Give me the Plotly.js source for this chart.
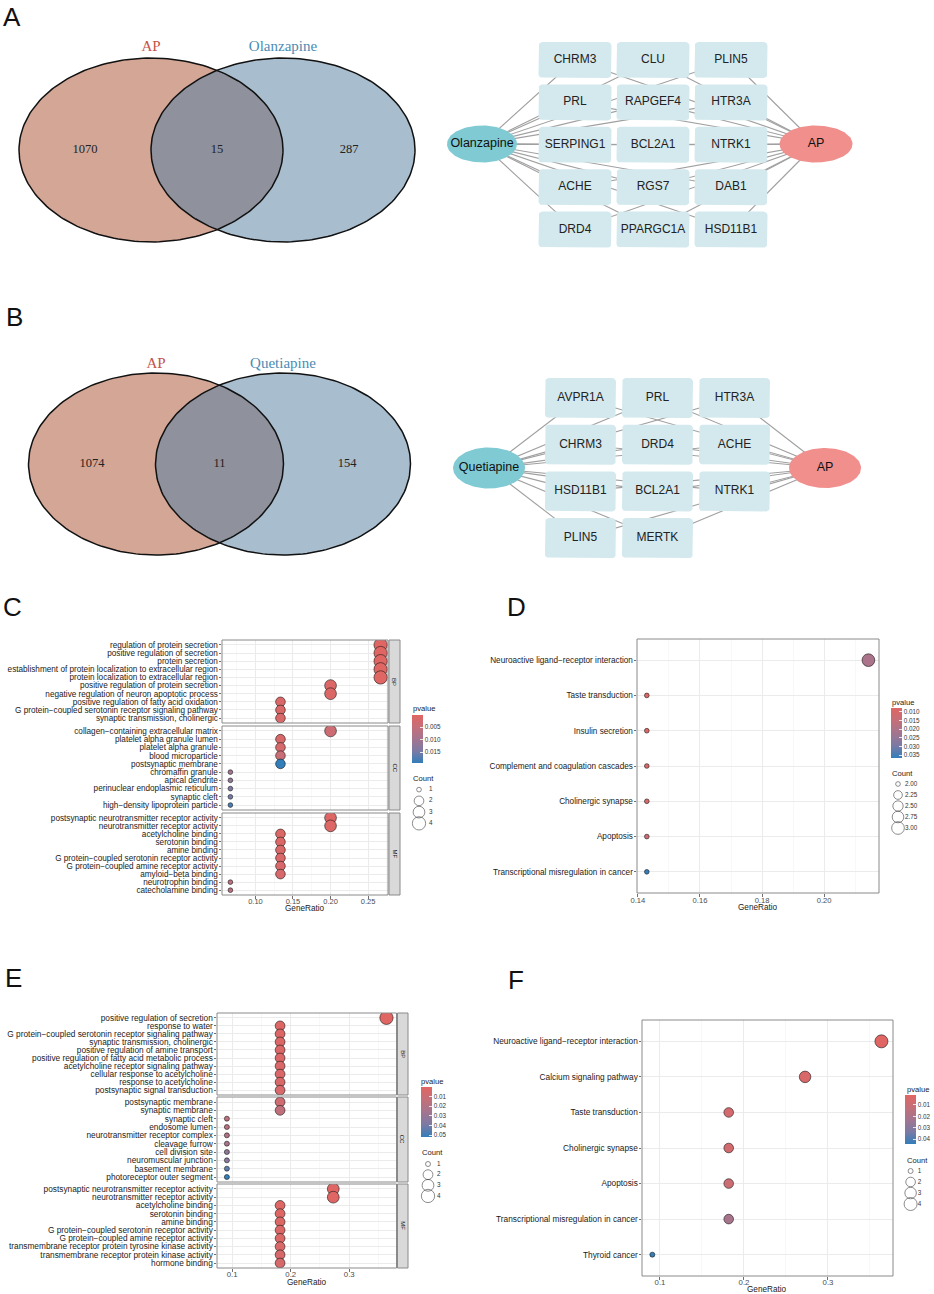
<!DOCTYPE html>
<html><head><meta charset="utf-8">
<script src="https://cdn.plot.ly/plotly-3.0.1.min.js"></script>
<style>html,body{margin:0;padding:0;background:#fff}#chart{width:934px;height:1294px}</style>
</head><body><div id="chart"></div>
<script>
// ================= DATA =================
const vennA_sets = ['AP', 'Olanzapine'];
const vennA_counts = [1070, 15, 287];
const vennB_sets = ['AP', 'Quetiapine'];
const vennB_counts = [1074, 11, 154];

const netA_hubs = ['Olanzapine', 'AP'];
const netA_genes = [['CHRM3','CLU','PLIN5'],['PRL','RAPGEF4','HTR3A'],['SERPING1','BCL2A1','NTRK1'],['ACHE','RGS7','DAB1'],['DRD4','PPARGC1A','HSD11B1']];
const netB_hubs = ['Quetiapine', 'AP'];
const netB_genes = [['AVPR1A','PRL','HTR3A'],['CHRM3','DRD4','ACHE'],['HSD11B1','BCL2A1','NTRK1'],['PLIN5','MERTK']];

// Panel C (GO, olanzapine) — GeneRatio = count / 15
const C_total = 15;
const C_BP_terms = ['regulation of protein secretion','positive regulation of secretion','protein secretion','establishment of protein localization to extracellular region','protein localization to extracellular region','positive regulation of protein secretion','negative regulation of neuron apoptotic process','positive regulation of fatty acid oxidation','G protein\u2212coupled serotonin receptor signaling pathway','synaptic transmission, cholinergic'];
const C_BP_count = [4,4,4,4,4,3,3,2,2,2];
const C_BP_p = [0.0002,0.0002,0.0003,0.0003,0.0003,0.0009,0.0011,0.0013,0.0013,0.0015];
const C_CC_terms = ['collagen\u2212containing extracellular matrix','platelet alpha granule lumen','platelet alpha granule','blood microparticle','postsynaptic membrane','chromaffin granule','apical dendrite','perinuclear endoplasmic reticulum','synaptic cleft','high\u2212density lipoprotein particle'];
const C_CC_count = [3,2,2,2,2,1,1,1,1,1];
const C_CC_p = [0.0035,0.0016,0.0020,0.0042,0.0194,0.0100,0.0118,0.0138,0.0150,0.0178];
const C_MF_terms = ['postsynaptic neurotransmitter receptor activity','neurotransmitter receptor activity','acetylcholine binding','serotonin binding','amine binding','G protein\u2212coupled serotonin receptor activity','G protein\u2212coupled amine receptor activity','amyloid\u2212beta binding','neurotrophin binding','catecholamine binding'];
const C_MF_count = [3,3,2,2,2,2,2,2,1,1];
const C_MF_p = [0.0006,0.0007,0.0010,0.0011,0.0013,0.0013,0.0015,0.0017,0.0062,0.0068];
const C_cb_ticks = [0.005, 0.010, 0.015];
const C_count_legend = [1,2,3,4];

// Panel D (KEGG, olanzapine) — GeneRatio = count / 14
const D_total = 14;
const D_terms = ['Neuroactive ligand\u2212receptor interaction','Taste transduction','Insulin secretion','Complement and coagulation cascades','Cholinergic synapse','Apoptosis','Transcriptional misregulation in cancer'];
const D_count = [3,2,2,2,2,2,2];
const D_p = [0.0205,0.0077,0.0082,0.0086,0.0093,0.0128,0.0367];
const D_cb_ticks = [0.010,0.015,0.020,0.025,0.030,0.035];
const D_count_legend = [2.00,2.25,2.50,2.75,3.00];

// Panel E (GO, quetiapine) — GeneRatio = count / 11
const E_total = 11;
const E_BP_terms = ['positive regulation of secretion','response to water','G protein\u2212coupled serotonin receptor signaling pathway','synaptic transmission, cholinergic','positive regulation of amine transport','positive regulation of fatty acid metabolic process','acetylcholine receptor signaling pathway','cellular response to acetylcholine','response to acetylcholine','postsynaptic signal transduction'];
const E_BP_count = [4,2,2,2,2,2,2,2,2,2];
const E_BP_p = [0.0001,0.0014,0.0020,0.0022,0.0024,0.0026,0.0028,0.0030,0.0032,0.0036];
const E_CC_terms = ['postsynaptic membrane','synaptic membrane','synaptic cleft','endosome lumen','neurotransmitter receptor complex','cleavage furrow','cell division site','neuromuscular junction','basement membrane','photoreceptor outer segment'];
const E_CC_count = [2,2,1,1,1,1,1,1,1,1];
const E_CC_p = [0.0082,0.0145,0.0160,0.0172,0.0205,0.0228,0.0320,0.0340,0.0440,0.0519];
const E_MF_terms = ['postsynaptic neurotransmitter receptor activity','neurotransmitter receptor activity','acetylcholine binding','serotonin binding','amine binding','G protein\u2212coupled serotonin receptor activity','G protein\u2212coupled amine receptor activity','transmembrane receptor protein tyrosine kinase activity','transmembrane receptor protein kinase activity','hormone binding'];
const E_MF_count = [3,3,2,2,2,2,2,2,2,2];
const E_MF_p = [0.0004,0.0005,0.0010,0.0012,0.0015,0.0018,0.0022,0.0035,0.0040,0.0045];
const E_cb_ticks = [0.01,0.02,0.03,0.04,0.05];
const E_count_legend = [1,2,3,4];

// Panel F (KEGG, quetiapine) — GeneRatio = count / 11
const F_total = 11;
const F_terms = ['Neuroactive ligand\u2212receptor interaction','Calcium signaling pathway','Taste transduction','Cholinergic synapse','Apoptosis','Transcriptional misregulation in cancer','Thyroid cancer'];
const F_count = [4,3,2,2,2,2,1];
const F_p = [0.0012,0.0040,0.0060,0.0066,0.0092,0.0215,0.0444];
const F_cb_ticks = [0.01,0.02,0.03,0.04];
const F_count_legend = [1,2,3,4];

// ================= LAYOUT HELPERS =================
const W = 934, H = 1294;
const FONT = '"Liberation Sans", Arial, Helvetica, sans-serif';
const SERIF = '"Liberation Serif", "Times New Roman", serif';
const PSCALE = [[0,'#327eba'],[0.25,'#7b7aa4'],[0.5,'#a3758f'],[0.75,'#c46f79'],[1,'#e06663']];
const px = (a,b) => [a/W, b/W];
const py = (a,b) => [1-b/H, 1-a/H];
const axKey = (n,c) => c+'axis'+(n===1?'':n);
const axRef = (n,c) => c+(n===1?'':n);
const hid = (dom, range, anchor) => ({domain:dom, range:range, anchor:anchor, visible:false, fixedrange:true});

const traces = [];
const layout = {
  width:W, height:H, margin:{l:0,r:0,t:0,b:0}, paper_bgcolor:'#ffffff', plot_bgcolor:'rgba(0,0,0,0)',
  showlegend:false, hovermode:false, font:{family:FONT, color:'#1a1a1a'}, shapes:[], annotations:[]
};
const base = {type:'scatter', mode:'lines', hoverinfo:'skip'};

function drawVenn(n, sets, counts, g){
  const xr = axRef(n,'x'), yr = axRef(n,'y');
  layout[axKey(n,'x')] = hid(px(g.x0,g.x1), [(g.x0-g.cL)/g.rx, (g.x1-g.cL)/g.rx], yr);
  layout[axKey(n,'y')] = hid(py(g.y0,g.y1), [(g.cy-g.y1)/g.ry, (g.cy-g.y0)/g.ry], xr);
  const d = (g.cR-g.cL)/g.rx;
  const circ = c => { const xs=[], ys=[]; for(let i=0;i<=200;i++){const t=i/200*2*Math.PI; xs.push(c+Math.cos(t)); ys.push(Math.sin(t));} return {xs,ys}; };
  const L = circ(0), R = circ(d);
  const th = Math.acos(d/2);
  const lx=[], ly=[];
  for(let i=0;i<=80;i++){const t=-th+2*th*i/80; lx.push(Math.cos(t)); ly.push(Math.sin(t));}
  for(let i=0;i<=80;i++){const t=Math.PI-th+2*th*i/80; lx.push(d+Math.cos(t)); ly.push(Math.sin(t));}
  const b = {...base, xaxis:xr, yaxis:yr};
  traces.push({...b, x:L.xs, y:L.ys, fill:'toself', fillcolor:'#d4a696', line:{width:0}});
  traces.push({...b, x:R.xs, y:R.ys, fill:'toself', fillcolor:'#a8bdce', line:{width:0}});
  traces.push({...b, x:lx, y:ly, fill:'toself', fillcolor:'#8f919c', line:{width:0}});
  traces.push({...b, x:L.xs, y:L.ys, line:{color:'#111111', width:1.5}});
  traces.push({...b, x:R.xs, y:R.ys, line:{color:'#111111', width:1.5}});
  traces.push({...b, mode:'text', x:[(d-2)/2, d/2, 1+d/2], y:[0,0,0], text:counts.map(String),
    textfont:{family:SERIF, size:12.5, color:'#222222'}, cliponaxis:false});
  const ly2 = (g.cy-g.labY)/g.ry;
  traces.push({...b, mode:'text', x:[0,d], y:[ly2,ly2], text:sets,
    textfont:{family:SERIF, size:15, color:['#c4534a','#4b8bb4']}, cliponaxis:false});
}

function roundRect(cx, cy, hw, hh, rx, ry){
  const xs=[], ys=[];
  const corners = [[cx+hw-rx, cy-hh+ry, -Math.PI/2, 0],[cx+hw-rx, cy+hh-ry, 0, Math.PI/2],[cx-hw+rx, cy+hh-ry, Math.PI/2, Math.PI],[cx-hw+rx, cy-hh+ry, Math.PI, 1.5*Math.PI]];
  corners.forEach(([ox,oy,a0,a1])=>{ for(let i=0;i<=6;i++){const t=a0+(a1-a0)*i/6; xs.push(ox+rx*Math.cos(t)); ys.push(oy+ry*Math.sin(t));} });
  xs.push(xs[0]); ys.push(ys[0]);
  return {xs, ys};
}

function drawNet(n, hubs, genes, g){
  const xr = axRef(n,'x'), yr = axRef(n,'y');
  layout[axKey(n,'x')] = hid(px(g.x0,g.x1), [(g.x0-g.c0)/g.cp, (g.x1-g.c0)/g.cp], yr);
  layout[axKey(n,'y')] = hid(py(g.y0,g.y1), [(g.y1-g.r0)/g.rp, (g.y0-g.r0)/g.rp], xr);
  const hub = h => ({c:(h.x-g.c0)/g.cp, r:(h.y-g.r0)/g.rp, rc:h.rx/g.cp, rr:h.ry/g.rp});
  const H1 = hub(g.hubL), H2 = hub(g.hubR);
  const nodes = [];
  genes.forEach((row,ri)=>row.forEach((name,ci)=>nodes.push({name, c:ci, r:ri})));
  const b = {...base, xaxis:xr, yaxis:yr, cliponaxis:false};
  [H1,H2].forEach(h=>{
    const ex=[], ey=[];
    nodes.forEach(nd=>{ ex.push(h.c, nd.c, null); ey.push(h.r, nd.r, null); });
    traces.push({...b, x:ex, y:ey, line:{color:'#a0a0a0', width:1.1}});
  });
  const hw = g.hw/g.cp, hh = g.hh/g.rp, rcx = 4/g.cp, rcy = 4/g.rp;
  nodes.forEach(nd=>{
    const p = roundRect(nd.c, nd.r, hw, hh, rcx, rcy);
    traces.push({...b, x:p.xs, y:p.ys, fill:'toself', fillcolor:'#d3e9ee', line:{width:0}});
  });
  [[H1,'#7fcad3'],[H2,'#f08f8c']].forEach(([h,col])=>{
    const xs=[], ys=[];
    for(let i=0;i<=120;i++){const t=i/120*2*Math.PI; xs.push(h.c+h.rc*Math.cos(t)); ys.push(h.r+h.rr*Math.sin(t));}
    traces.push({...b, x:xs, y:ys, fill:'toself', fillcolor:col, line:{width:0}});
  });
  traces.push({...b, mode:'text', x:nodes.map(d=>d.c), y:nodes.map(d=>d.r), text:nodes.map(d=>d.name),
    textfont:{family:FONT, size:12, color:'#222222'}});
  traces.push({...b, mode:'text', x:[H1.c,H2.c], y:[H1.r,H2.r], text:hubs,
    textfont:{family:FONT, size:12.5, color:'#111111'}});
}

function dotPlot(cfg){
  const xr = 'x'+cfg.xn;
  const allCounts = cfg.facets.flatMap(f=>f.count).concat(cfg.lg.vals);
  const cMin = Math.min(...allCounts), cMax = Math.max(...allCounts);
  const sz = c => cfg.dmin + (cfg.dmax-cfg.dmin)*Math.sqrt((c-cMin)/(cMax-cMin));
  const allP = cfg.facets.flatMap(f=>f.p);
  const pMin = Math.min(...allP), pMax = Math.max(...allP);
  const ca = 'coloraxis'+(cfg.ck===1?'':cfg.ck);
  layout[ca] = {cmin:-pMax, cmax:-pMin, colorscale:PSCALE, colorbar:{
    x:cfg.cb.x/W, xanchor:'left', y:1-((cfg.cb.y0+cfg.cb.y1)/2)/H, yanchor:'middle',
    len:cfg.cb.y1-cfg.cb.y0, lenmode:'pixels', thickness:11, thicknessmode:'pixels',
    xpad:0, ypad:0, outlinewidth:0, borderwidth:0, ticks:'inside', ticklen:2.5, tickwidth:0.8, tickcolor:'#ffffff',
    tickvals:cfg.cb.ticks.map(v=>-v), ticktext:cfg.cb.ticks.map(v=>v.toFixed(cfg.cb.dec)),
    tickfont:{size:6.3, color:'#333333', family:FONT}}};
  const lastY = 'y'+cfg.facets[cfg.facets.length-1].yn;
  layout['xaxis'+cfg.xn] = {domain:px(cfg.x0,cfg.x1), range:cfg.xrange, anchor:lastY, showgrid:true, gridcolor:'#ebebeb', gridwidth:1,
    zeroline:false, showline:false, ticks:'outside', ticklen:2.5, tickwidth:0.7, tickcolor:'#333333',
    tickfont:{size:cfg.tickSize, color:'#4d4d4d', family:FONT}, tick0:cfg.tick0, dtick:cfg.dtick, tickformat:cfg.fmt,
    ticklabelstandoff:cfg.xstand, minor:{dtick:cfg.minor, showgrid:true, gridcolor:'#f3f3f3', gridwidth:0.6, ticks:''}, fixedrange:true};
  cfg.facets.forEach(f=>{
    const yr = 'y'+f.yn;
    layout['yaxis'+f.yn] = {domain:py(f.y0,f.y1), anchor:xr, type:'category', categoryorder:'array', categoryarray:f.terms,
      tickmode:'array', tickvals:f.terms, ticktext:f.terms,
      range:[f.terms.length-0.4, -0.6], showgrid:true, gridcolor:'#ebebeb', gridwidth:1, zeroline:false, showline:false,
      ticks:'outside', ticklen:2.5, tickwidth:0.7, tickcolor:'#333333', tickfont:{size:cfg.labelSize, color:'#1a1a1a', family:FONT},
      ticklabelstandoff:-1, fixedrange:true};
    traces.push({type:'scatter', mode:'markers', xaxis:xr, yaxis:yr, hoverinfo:'skip',
      x:f.count.map(c=>c/cfg.total), y:f.terms,
      marker:{size:f.count.map(sz), color:f.p.map(v=>-v), coloraxis:ca, line:{color:'#1a1a1a', width:0.6}, opacity:1}});
    layout.shapes.push({type:'rect', xref:'paper', yref:'paper', x0:cfg.x0/W, x1:cfg.x1/W, y0:1-f.y1/H, y1:1-f.y0/H,
      line:{color:'#8a8a8a', width:1}, fillcolor:'rgba(0,0,0,0)', layer:'above'});
    if(f.strip){
      layout.shapes.push({type:'rect', xref:'paper', yref:'paper', x0:cfg.s0/W, x1:cfg.s1/W, y0:1-f.y1/H, y1:1-f.y0/H,
        line:{color:'#8a8a8a', width:1}, fillcolor:'#d9d9d9', layer:'above'});
      layout.annotations.push({xref:'paper', yref:'paper', x:((cfg.s0+cfg.s1)/2)/W, y:1-((f.y0+f.y1)/2)/H, text:f.strip,
        textangle:90, showarrow:false, font:{size:6, color:'#1a1a1a', family:FONT}, xanchor:'center', yanchor:'middle'});
    }
  });
  // axis title
  layout.annotations.push({xref:'paper', yref:'paper', x:cfg.title[0]/W, y:1-cfg.title[1]/H, text:'GeneRatio', showarrow:false,
    font:{size:8.2, color:'#1a1a1a', family:FONT}, xanchor:'center', yanchor:'middle'});
  // legend titles
  layout.annotations.push({xref:'paper', yref:'paper', x:cfg.cb.tx/W, y:1-cfg.cb.ty/H, text:'pvalue', showarrow:false,
    font:{size:7.6, color:'#1a1a1a', family:FONT}, xanchor:'left', yanchor:'middle'});
  layout.annotations.push({xref:'paper', yref:'paper', x:cfg.lg.tx/W, y:1-cfg.lg.ty/H, text:'Count', showarrow:false,
    font:{size:7.6, color:'#1a1a1a', family:FONT}, xanchor:'left', yanchor:'middle'});
  // size legend
  const lgx = 'x'+cfg.lg.xn, lgy = 'y'+cfg.lg.yn;
  const labels = cfg.lg.vals.map(v=>v.toFixed(cfg.lg.dec));
  layout['xaxis'+cfg.lg.xn] = hid(px(cfg.lg.x0, cfg.lg.x0+40), [0,40], lgy);
  layout['yaxis'+cfg.lg.yn] = {...hid(py(cfg.lg.y0, cfg.lg.y1), [labels.length-0.5, -0.5], lgx), type:'category', categoryorder:'array', categoryarray:labels};
  traces.push({type:'scatter', mode:'markers', xaxis:lgx, yaxis:lgy, hoverinfo:'skip', cliponaxis:false,
    x:labels.map(()=>cfg.lg.cx-cfg.lg.x0), y:labels,
    marker:{size:cfg.lg.vals.map(sz), color:'rgba(0,0,0,0)', line:{color:'#333333', width:0.8}}});
  traces.push({type:'scatter', mode:'text', xaxis:lgx, yaxis:lgy, hoverinfo:'skip', cliponaxis:false,
    x:labels.map(()=>cfg.lg.lx-cfg.lg.x0), y:labels, text:labels, textposition:'middle right',
    textfont:{size:6.3, color:'#333333', family:FONT}});
}

// ================= BUILD =================
drawVenn(1, vennA_sets, vennA_counts, {x0:0, x1:440, y0:30, y1:260, cL:151, cR:283, rx:132, cy:150, ry:92, labY:47});
drawNet(2, netA_hubs, netA_genes, {x0:440, x1:934, y0:30, y1:260, c0:575, cp:78, r0:60, rp:42.4, hw:36.5, hh:18,
  hubL:{x:482, y:144, rx:35, ry:18.5}, hubR:{x:816, y:144, rx:36.5, ry:18.5}});
drawVenn(3, vennB_sets, vennB_counts, {x0:0, x1:440, y0:340, y1:570, cL:156, cR:283, rx:127.5, cy:464, ry:91, labY:364});
drawNet(4, netB_hubs, netB_genes, {x0:440, x1:934, y0:340, y1:570, c0:580.5, cp:77, r0:398, rp:46.7, hw:35.5, hh:20,
  hubL:{x:489, y:468, rx:36, ry:20.5}, hubR:{x:825, y:468, rx:36, ry:20}});

dotPlot({xn:5, ck:1, total:C_total, x0:222, x1:388, s0:389, s1:400, xrange:[0.0555,0.2765], tick0:0.1, dtick:0.05, minor:0.025, fmt:'.2f',
  labelSize:8.2, tickSize:7.5, xstand:-4, dmin:4.7, dmax:13.3, title:[305,908],
  facets:[{yn:5, terms:C_BP_terms, count:C_BP_count, p:C_BP_p, y0:640, y1:723, strip:'BP'},
          {yn:6, terms:C_CC_terms, count:C_CC_count, p:C_CC_p, y0:726, y1:810, strip:'CC'},
          {yn:7, terms:C_MF_terms, count:C_MF_count, p:C_MF_p, y0:813, y1:895, strip:'MF'}],
  cb:{x:412, y0:715, y1:763, ticks:C_cb_ticks, dec:3, tx:411, ty:708},
  lg:{xn:9, yn:13, vals:C_count_legend, dec:0, x0:405, cx:419, lx:429, y0:784, y1:829, tx:411, ty:779}});

dotPlot({xn:6, ck:2, total:D_total, x0:637, x1:879, xrange:[0.1397,0.2177], tick0:0.14, dtick:0.02, minor:0.01, fmt:'.2f',
  labelSize:8.2, tickSize:7.6, xstand:-3, dmin:4.7, dmax:12.7, title:[758,907],
  facets:[{yn:8, terms:D_terms, count:D_count, p:D_p, y0:639, y1:893}],
  cb:{x:891, y0:708, y1:758, ticks:D_cb_ticks, dec:3, tx:890, ty:702},
  lg:{xn:10, yn:14, vals:D_count_legend, dec:2, x0:884, cx:898, lx:905, y0:778.5, y1:833.5, tx:890, ty:773}});

dotPlot({xn:7, ck:3, total:E_total, x0:217, x1:396.5, s0:397.5, s1:408, xrange:[0.074,0.3808], tick0:0.1, dtick:0.1, minor:0.05, fmt:'.1f',
  labelSize:8.3, tickSize:7.8, xstand:-4, dmin:5, dmax:13.3, title:[307,1282],
  facets:[{yn:9, terms:E_BP_terms, count:E_BP_count, p:E_BP_p, y0:1013, y1:1095, strip:'BP'},
          {yn:10, terms:E_CC_terms, count:E_CC_count, p:E_CC_p, y0:1097, y1:1182, strip:'CC'},
          {yn:11, terms:E_MF_terms, count:E_MF_count, p:E_MF_p, y0:1184, y1:1268, strip:'MF'}],
  cb:{x:421, y0:1087, y1:1137, ticks:E_cb_ticks, dec:2, tx:419, ty:1081},
  lg:{xn:11, yn:15, vals:E_count_legend, dec:0, x0:414, cx:428, lx:437, y0:1158.7, y1:1201.3, tx:420, ty:1152}});

dotPlot({xn:8, ck:4, total:F_total, x0:642, x1:893, xrange:[0.0786,0.3774], tick0:0.1, dtick:0.1, minor:0.05, fmt:'.1f',
  labelSize:8.3, tickSize:7.8, xstand:-4, dmin:5, dmax:13, title:[767,1289],
  facets:[{yn:12, terms:F_terms, count:F_count, p:F_p, y0:1020, y1:1276}],
  cb:{x:905, y0:1095, y1:1144, ticks:F_cb_ticks, dec:2, tx:905, ty:1089},
  lg:{xn:12, yn:16, vals:F_count_legend, dec:0, x0:898, cx:912, lx:920, y0:1165.5, y1:1209.5, tx:905, ty:1160}});

// panel letters
[['A',12,17],['B',14,317],['C',12,607],['D',516,607],['E',13,978],['F',516,980]].forEach(([t,x,y])=>{
  layout.annotations.push({xref:'paper', yref:'paper', x:x/W, y:1-y/H, text:t, showarrow:false, xanchor:'center', yanchor:'middle',
    font:{size:26, color:'#111111', family:FONT}});
});

Plotly.newPlot('chart', traces, layout, {staticPlot:true, displayModeBar:false});
</script>
</body></html>
